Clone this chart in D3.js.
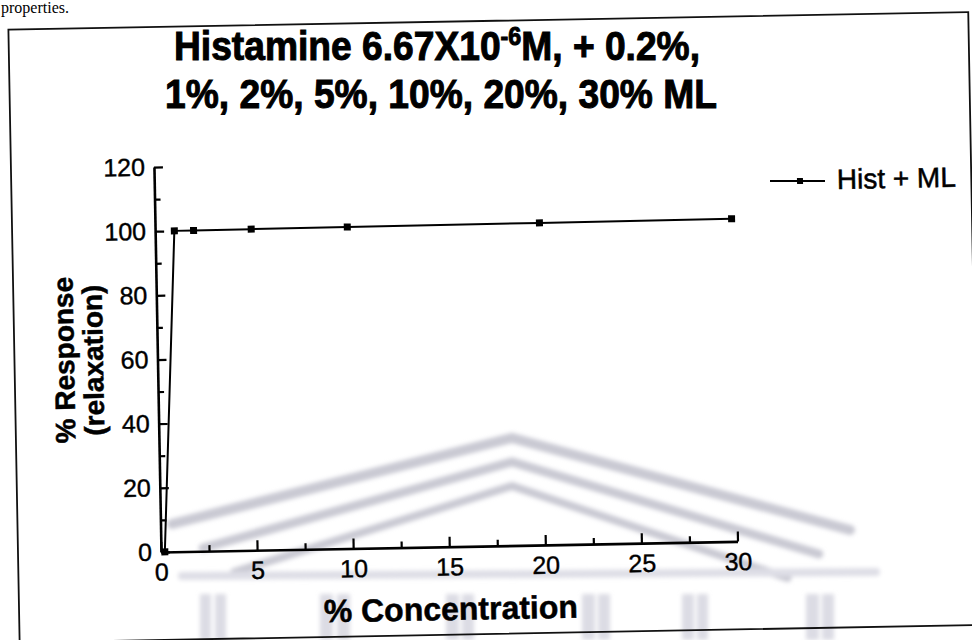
<!DOCTYPE html>
<html><head><meta charset="utf-8">
<script src="https://cdn.jsdelivr.net/npm/d3@7"></script>
<style>body{margin:0;background:#fff}svg{display:block}</style>
</head><body>
<svg id="c" width="972" height="640"></svg>
<script>
// ---- data ----
const concentration = [0.2, 1, 2, 5, 10, 20, 30];
const response = [0, 100, 100, 100.1, 100.2, 100.4, 100.6];
const xTicks = [0, 5, 10, 15, 20, 25, 30];
const xMinorTicks = [2.5, 7.5, 12.5, 17.5, 22.5, 27.5];
const yTicks = [0, 20, 40, 60, 80, 100, 120];
const yMinorTicks = [10, 30, 50, 70, 90, 110];
const titleA = "Histamine 6.67X10";
const titleSup = "-6";
const titleB = "M, + 0.2%,";
const titleLine2 = "1%, 2%, 5%, 10%, 20%, 30% ML";
const seriesName = "Hist + ML";
const xTitle = "% Concentration";
const yTitle = ["% Response", "(relaxation)"];
const pageText = "properties.";

const FONT = "'Liberation Sans', Arial, Helvetica, sans-serif";
const svg = d3.select("#c");

// scan skew
const TH = 1.05, CX = 161, CY = 552;
const rad = TH * Math.PI / 180, cs = Math.cos(rad), sn = Math.sin(rad);
function unrot(x, y) { const dx = x - CX, dy = y - CY; return [CX + dx * cs - dy * sn, CY + dx * sn + dy * cs]; }

// page fragment
svg.append("text").attr("x", 1).attr("y", 13).attr("font-family", "'Liberation Serif', 'Times New Roman', serif")
  .attr("font-size", 16).text(pageText);

// faint watermark (background decoration)
const defs = svg.append("defs");
defs.append("filter").attr("id", "blur").attr("x", "-5%").attr("y", "-20%").attr("width", "110%").attr("height", "140%")
  .append("feGaussianBlur").attr("stdDeviation", 2);
const wm = svg.append("g").attr("filter", "url(#blur)");
const wmLines = wm.append("g").attr("fill", "none").attr("stroke", "#c9c9d3").attr("stroke-linecap", "round");
[[0, 10], [24, 9], [48, 8]].forEach(([off, w]) => {
  wmLines.append("path").attr("stroke-width", w)
    .attr("d", `M${172 + off * 1.3},${524 + off} L512,${438 + off} L${850 - off * 1.3},${530 + off}`);
});
wmLines.append("path").attr("stroke-width", 8).attr("stroke", "#dedee6").attr("d", "M182,576 L876,572");
const cols = [[200, 211], [215, 226], [320, 333], [337, 350], [446, 459], [462, 474], [582, 595], [598, 610], [682, 694], [697, 708], [806, 819], [822, 834]];
cols.forEach(([a, b]) => {
  wm.append("rect").attr("x", a).attr("y", 594).attr("width", b - a).attr("height", 46).attr("fill", "#dcdce4");
});

const g = svg.append("g").attr("transform", `rotate(${-TH},${CX},${CY})`);

// border
g.append("rect").attr("x", 18).attr("y", 27).attr("width", 960).attr("height", 613)
  .attr("fill", "none").attr("stroke", "#111").attr("stroke-width", 1.8);

// scales
const x = d3.scaleLinear().domain([0, 30]).range([161, 737.6]);
const y = d3.scaleLinear().domain([0, 120]).range([552, 167]);

function styleAxis(sel) {
  sel.attr("font-family", FONT).attr("font-size", 25);
  sel.selectAll("path.domain").attr("stroke", "#000").attr("stroke-width", 2.6);
  sel.selectAll(".tick line").attr("stroke", "#000").attr("stroke-width", 2.2);
  sel.selectAll(".tick text").attr("fill", "#000").attr("stroke", "#000").attr("stroke-width", 0.4);
}

// x axis
const gx = g.append("g").attr("transform", `translate(0,${y(0)})`)
  .call(d3.axisBottom(x).tickValues(xTicks).tickSize(-10).tickSizeOuter(0).tickPadding(11).tickFormat(d3.format("d")));
styleAxis(gx);
const gxm = g.append("g").attr("transform", `translate(0,${y(0)})`)
  .call(d3.axisBottom(x).tickValues(xMinorTicks).tickSize(-6).tickSizeOuter(0).tickFormat(""));
styleAxis(gxm); gxm.select("path.domain").remove();

// y axis
const gy = g.append("g").attr("transform", `translate(${x(0)},0)`)
  .call(d3.axisLeft(y).tickValues(yTicks).tickSize(-9).tickSizeOuter(0).tickPadding(9).tickFormat(d3.format("d")));
styleAxis(gy);
const gym = g.append("g").attr("transform", `translate(${x(0)},0)`)
  .call(d3.axisLeft(y).tickValues(yMinorTicks).tickSize(-6).tickSizeOuter(0).tickFormat(""));
styleAxis(gym); gym.select("path.domain").remove();

// data line + markers
const pts = concentration.map((c, i) => [c, response[i]]);
g.append("path").datum(pts).attr("fill", "none").attr("stroke", "#000").attr("stroke-width", 2)
  .attr("d", d3.line().x(d => x(d[0])).y(d => y(d[1])));
g.selectAll("rect.pt").data(pts).enter().append("rect").attr("class", "pt")
  .attr("x", d => x(d[0]) - 3.5).attr("y", d => y(d[1]) - 3.5).attr("width", 7).attr("height", 7).attr("fill", "#000");

// title (kept level so the two lines do not collide)
const tt1 = svg.append("text").attr("transform", `translate(437,60) scale(0.93,1)`)
  .attr("text-anchor", "middle").attr("font-family", FONT).attr("font-weight", "bold").attr("font-size", 40)
  .attr("stroke", "#000").attr("stroke-width", 1);
tt1.append("tspan").text(titleA);
tt1.append("tspan").attr("font-size", 25).attr("dy", -15).text(titleSup);
tt1.append("tspan").attr("dy", 15).text(titleB);
svg.append("text").attr("transform", `translate(441,108) scale(0.93,1)`)
  .attr("text-anchor", "middle").attr("font-family", FONT).attr("font-weight", "bold").attr("font-size", 40)
  .attr("stroke", "#000").attr("stroke-width", 1).text(titleLine2);

// axis titles
const xt = unrot(451, 620);
g.append("text").attr("x", xt[0]).attr("y", xt[1]).attr("text-anchor", "middle")
  .attr("font-family", FONT).attr("font-weight", "bold").attr("font-size", 32)
  .attr("stroke", "#000").attr("stroke-width", 0.5).text(xTitle);
[[74, 360], [103, 360]].forEach(([px, py], i) => {
  const p = unrot(px, py);
  g.append("text").attr("transform", `translate(${p[0]},${p[1]}) rotate(-90)`).attr("text-anchor", "middle")
    .attr("font-family", FONT).attr("font-weight", "bold").attr("font-size", 28)
    .attr("stroke", "#000").attr("stroke-width", 0.5).text(yTitle[i]);
});

// legend
const l1 = unrot(770, 181), l2 = unrot(825, 181), lm = unrot(800, 181), lt = unrot(837, 189);
g.append("line").attr("x1", l1[0]).attr("y1", l1[1]).attr("x2", l2[0]).attr("y2", l2[1])
  .attr("stroke", "#000").attr("stroke-width", 2);
g.append("rect").attr("x", lm[0] - 3).attr("y", lm[1] - 3).attr("width", 6).attr("height", 6).attr("fill", "#000");
g.append("text").attr("x", lt[0]).attr("y", lt[1]).attr("font-family", FONT).attr("font-size", 28)
  .attr("stroke", "#000").attr("stroke-width", 0.5).text(seriesName);
</script>
</body></html>
